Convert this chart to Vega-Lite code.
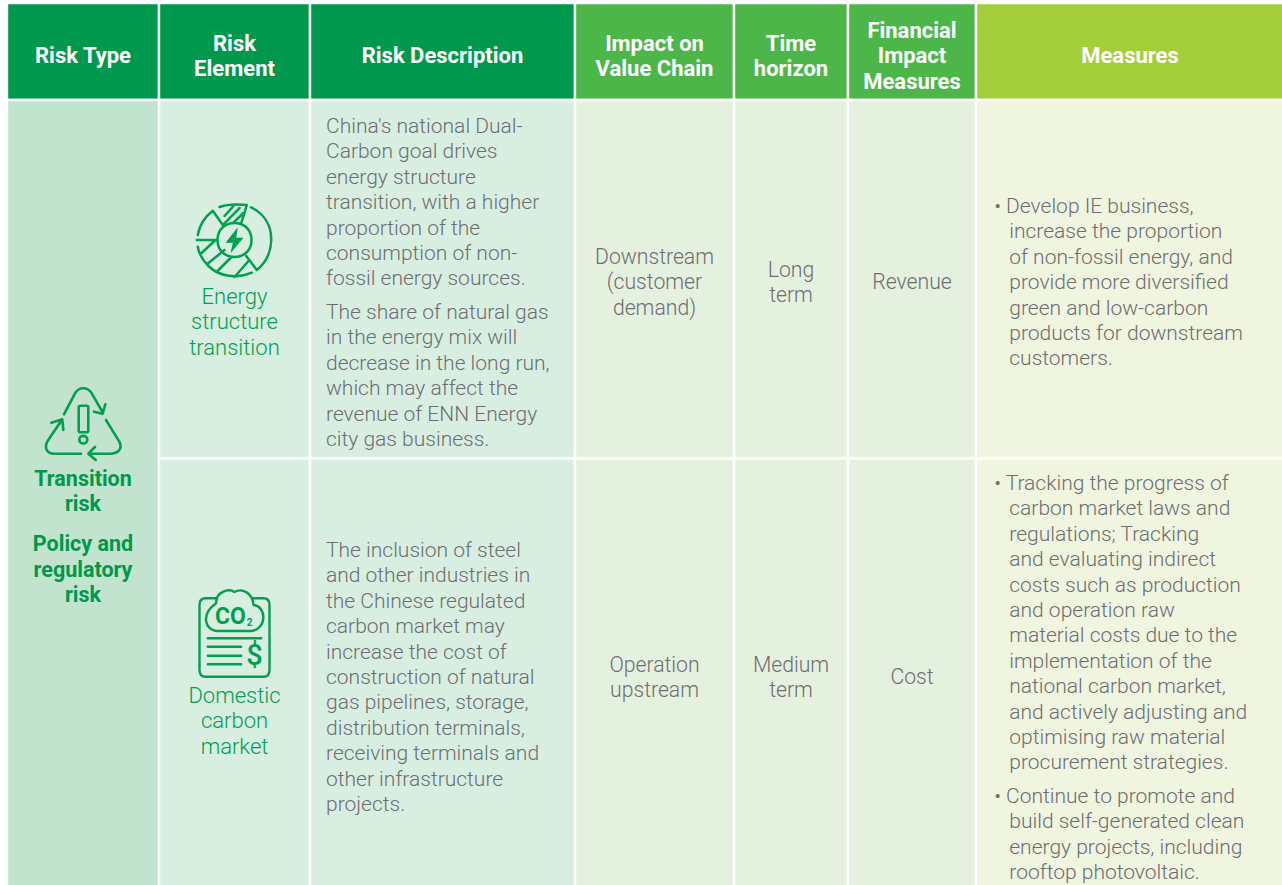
{
"$schema":"https://vega.github.io/schema/vega-lite/v6.json",
"width":1282,"height":885,"padding":0,"autosize":{"type":"none"},
"background":"white",
"config":{"view":{"stroke":null}},
"datasets":{
"cells":[
{"col":0,"col_end":1,"line":0.118,"line_end":3.937,"band":"core header"},
{"col":1,"col_end":2,"line":0.118,"line_end":3.937,"band":"core header"},
{"col":2,"col_end":3,"line":0.118,"line_end":3.937,"band":"core header"},
{"col":3,"col_end":4,"line":0.118,"line_end":3.937,"band":"impact header"},
{"col":4,"col_end":5,"line":0.118,"line_end":3.937,"band":"impact header"},
{"col":5,"col_end":6,"line":0.118,"line_end":3.937,"band":"impact header"},
{"col":6,"col_end":7,"line":0.118,"line_end":3.937,"band":"measures header"},
{"col":0,"col_end":1,"line":3.937,"line_end":34.921,"band":"type"},
{"col":1,"col_end":2,"line":3.937,"line_end":18.051,"band":"element"},
{"col":2,"col_end":3,"line":3.937,"line_end":18.051,"band":"element"},
{"col":3,"col_end":4,"line":3.937,"line_end":18.051,"band":"impact"},
{"col":4,"col_end":5,"line":3.937,"line_end":18.051,"band":"impact"},
{"col":5,"col_end":6,"line":3.937,"line_end":18.051,"band":"impact"},
{"col":6,"col_end":7,"line":3.937,"line_end":18.051,"band":"measures"},
{"col":1,"col_end":2,"line":18.051,"line_end":34.921,"band":"element"},
{"col":2,"col_end":3,"line":18.051,"line_end":34.921,"band":"element"},
{"col":3,"col_end":4,"line":18.051,"line_end":34.921,"band":"impact"},
{"col":4,"col_end":5,"line":18.051,"line_end":34.921,"band":"impact"},
{"col":5,"col_end":6,"line":18.051,"line_end":34.921,"band":"impact"},
{"col":6,"col_end":7,"line":18.051,"line_end":34.921,"band":"measures"}
],
"headers":[
{"col":0.5,"line":2.165,"text":"Risk Type"},
{"col":1.5,"line":1.693,"text":"Risk"},
{"col":1.5,"line":2.677,"text":"Element"},
{"col":2.5,"line":2.165,"text":"Risk Description"},
{"col":3.5,"line":1.693,"text":"Impact on"},
{"col":3.5,"line":2.677,"text":"Value Chain"},
{"col":4.5,"line":1.693,"text":"Time"},
{"col":4.5,"line":2.677,"text":"horizon"},
{"col":5.5,"line":1.181,"text":"Financial"},
{"col":5.5,"line":2.165,"text":"Impact"},
{"col":5.5,"line":3.189,"text":"Measures"},
{"col":6.5,"line":2.165,"text":"Measures"}
],
"centered":[
{"col":3.5,"line":10.118,"text":"Downstream"},
{"col":3.5,"line":11.118,"text":"(customer"},
{"col":3.5,"line":12.118,"text":"demand)"},
{"col":4.5,"line":10.63,"text":"Long"},
{"col":4.5,"line":11.63,"text":"term"},
{"col":5.5,"line":11.102,"text":"Revenue"},
{"col":3.5,"line":26.181,"text":"Operation"},
{"col":3.5,"line":27.181,"text":"upstream"},
{"col":4.5,"line":26.181,"text":"Medium"},
{"col":4.5,"line":27.181,"text":"term"},
{"col":5.5,"line":26.654,"text":"Cost"}
],
"descriptions":[
{"col":2,"line":4.96,"text":"China's national Dual-"},
{"col":2,"line":5.96,"text":"Carbon goal drives"},
{"col":2,"line":6.96,"text":"energy structure"},
{"col":2,"line":7.96,"text":"transition, with a higher"},
{"col":2,"line":8.96,"text":"proportion of the"},
{"col":2,"line":9.96,"text":"consumption of non-"},
{"col":2,"line":10.96,"text":"fossil energy sources."},
{"col":2,"line":12.283,"text":"The share of natural gas"},
{"col":2,"line":13.283,"text":"in the energy mix will"},
{"col":2,"line":14.283,"text":"decrease in the long run,"},
{"col":2,"line":15.283,"text":"which may affect the"},
{"col":2,"line":16.283,"text":"revenue of ENN Energy"},
{"col":2,"line":17.283,"text":"city gas business."},
{"col":2,"line":21.654,"text":"The inclusion of steel"},
{"col":2,"line":22.654,"text":"and other industries in"},
{"col":2,"line":23.654,"text":"the Chinese regulated"},
{"col":2,"line":24.654,"text":"carbon market may"},
{"col":2,"line":25.654,"text":"increase the cost of"},
{"col":2,"line":26.654,"text":"construction of natural"},
{"col":2,"line":27.654,"text":"gas pipelines, storage,"},
{"col":2,"line":28.654,"text":"distribution terminals,"},
{"col":2,"line":29.654,"text":"receiving terminals and"},
{"col":2,"line":30.654,"text":"other infrastructure"},
{"col":2,"line":31.654,"text":"projects."}
],
"measures":[
{"col":6.059,"line":8.11,"text":"• Develop IE business,"},
{"col":6.108,"line":9.11,"text":"increase the proportion"},
{"col":6.108,"line":10.11,"text":"of non-fossil energy, and"},
{"col":6.108,"line":11.11,"text":"provide more diversified"},
{"col":6.108,"line":12.11,"text":"green and low-carbon"},
{"col":6.108,"line":13.11,"text":"products for downstream"},
{"col":6.108,"line":14.11,"text":"customers."},
{"col":6.059,"line":19.016,"text":"• Tracking the progress of"},
{"col":6.108,"line":20.016,"text":"carbon market laws and"},
{"col":6.108,"line":21.016,"text":"regulations; Tracking"},
{"col":6.108,"line":22.016,"text":"and evaluating indirect"},
{"col":6.108,"line":23.016,"text":"costs such as production"},
{"col":6.108,"line":24.016,"text":"and operation raw"},
{"col":6.108,"line":25.016,"text":"material costs due to the"},
{"col":6.108,"line":26.016,"text":"implementation of the"},
{"col":6.108,"line":27.016,"text":"national carbon market,"},
{"col":6.108,"line":28.016,"text":"and actively adjusting and"},
{"col":6.108,"line":29.016,"text":"optimising raw material"},
{"col":6.108,"line":30.016,"text":"procurement strategies."},
{"col":6.059,"line":31.339,"text":"• Continue to promote and"},
{"col":6.108,"line":32.339,"text":"build self-generated clean"},
{"col":6.108,"line":33.339,"text":"energy projects, including"},
{"col":6.108,"line":34.339,"text":"rooftop photovoltaic."}
],
"elements":[
{"col":1.5,"line":11.654,"text":"Energy"},
{"col":1.5,"line":12.654,"text":"structure"},
{"col":1.5,"line":13.654,"text":"transition"},
{"col":1.5,"line":27.362,"text":"Domestic"},
{"col":1.5,"line":28.362,"text":"carbon"},
{"col":1.5,"line":29.362,"text":"market"}
],
"types":[
{"col":0.5,"line":18.858,"text":"Transition"},
{"col":0.5,"line":19.843,"text":"risk"},
{"col":0.5,"line":21.417,"text":"Policy and"},
{"col":0.5,"line":22.441,"text":"regulatory"},
{"col":0.5,"line":23.425,"text":"risk"}
]
},
"encoding":{
"x":{"field":"col","type":"quantitative","axis":null,"scale":{"domain":[0,1,2,3,4,5,6,7],"range":[7,159,310,575,734,848,976,1284]}},
"y":{"field":"line","type":"quantitative","axis":null,"scale":{"domain":[0,34.843],"range":[0,885]}}
},
"layer":[
{"data":{"name":"cells"},"mark":{"type":"rect","stroke":"white","strokeWidth":2.4},
 "encoding":{"x2":{"field":"col_end"},"y2":{"field":"line_end"},
 "color":{"field":"band","type":"nominal","legend":null,"scale":{"domain":["core header","impact header","measures header","type","element","impact","measures"],"range":["#00984C","#4CB748","#A4CE39","#C2E3CD","#D8EEE1","#E5F1DF","#EFF5DF"]}}}},
{"data":{"name":"headers"},"mark":{"type":"text","font":"Roboto","fontWeight":700,"fontSize":22,"fill":"white","align":"center","baseline":"middle","dy":1},
 "encoding":{"text":{"field":"text"}}},
{"data":{"name":"centered"},"mark":{"type":"text","font":"Roboto","fontWeight":300,"fontSize":21.2,"fill":"#6D6E71","align":"center","baseline":"middle","dy":1},
 "encoding":{"text":{"field":"text"}}},
{"data":{"name":"descriptions"},"mark":{"type":"text","font":"Roboto","fontWeight":300,"fontSize":21,"fill":"#6D6E71","align":"left","baseline":"middle","dx":16,"dy":1},
 "encoding":{"text":{"field":"text"}}},
{"data":{"name":"measures"},"mark":{"type":"text","font":"Roboto","fontWeight":300,"fontSize":21,"fill":"#6D6E71","align":"left","baseline":"middle","dy":1},
 "encoding":{"text":{"field":"text"}}},
{"data":{"name":"elements"},"mark":{"type":"text","font":"Roboto","fontWeight":300,"fontSize":22,"fill":"#00A04F","align":"center","baseline":"middle","dy":1},
 "encoding":{"text":{"field":"text"}}},
{"data":{"name":"types"},"mark":{"type":"text","font":"Roboto","fontWeight":700,"fontSize":21.5,"fill":"#00984C","align":"center","baseline":"middle","dy":1},
 "encoding":{"text":{"field":"text"}}},
{"data":{"values":[{"col":0.5,"line":16.732}]},
 "mark":{"type":"point","filled":false,"size":4,"stroke":"#00A04F","strokeWidth":2.6,"opacity":1,"strokeCap":"round","strokeJoin":"round","shape":"M-19,-10.7 L-8,-31.7 C-4,-38.5 4.5,-38.5 8.7,-31.7 L19.7,-12.7 M11,-13.3 L19.7,-11.3 L22.3,-20.7 M23,-5 L36.3,16.7 C40,24 35,28.7 27,28.7 L5.3,28.7 M12,22 L5.3,28.7 L12.7,35 M-2,28.7 L-28,28.7 C-36,28.7 -40,23 -34.7,15 L-20.7,-5.7 M-31.7,-2.3 L-20.7,-5.7 L-19.7,5 M-2.5,-19.3 L3.5,-19.3 Q5.3,-19.3 5.3,-17.5 L5.3,5.5 Q5.3,7.3 3.5,7.3 L-2.5,7.3 Q-4.3,7.3 -4.3,5.5 L-4.3,-17.5 Q-4.3,-19.3 -2.5,-19.3 Z M4.3,14.7 C4.3,19.8 -3.7,19.8 -3.7,14.7 C-3.7,9.6 4.3,9.6 4.3,14.7 Z"}},
{"data":{"values":[{"col":1.5,"line":9.449}]},
 "mark":{"type":"point","filled":false,"size":4,"stroke":"#00A04F","strokeWidth":2.5,"opacity":1,"strokeCap":"round","strokeJoin":"round","shape":"M16.7,-32.7 C30,-26 37,-14 36.7,0 C36.5,12 31,23 22.3,30 L11.7,16 M17.3,32.7 C3,39 -15,37 -26,26 C-32,20 -36,13 -36.7,6.7 M-36.7,-5 C-35,-15 -30,-23 -21.7,-29.3 L-11.7,-15 M6.7,-16.7 L12.3,-35 C2,-36 -7,-36 -15,-33 M-11.7,-15 L5,-32 M-1,-17.5 L9,-27 M-37.7,0 L-18,0 M17,0 C17,22.7 -17,22.7 -17,0 C-17,-22.7 17,-22.7 17,0 Z M-33,13 L-20,1 M-26,23 L-10,10 M-18,32 L-3,17 M0,37 L14,21 M-10,-24 L-1,-34"}},
{"data":{"values":[{"col":1.5,"line":9.449}]},
 "mark":{"type":"point","filled":true,"size":4,"fill":"#00A04F","opacity":1,"shape":"M3.3,-12.7 L-9,2.7 L-1.7,2.7 L-4,13.3 L9,-2.3 L1.7,-2.3 Z"}},
{"data":{"values":[{"col":1.5,"line":25.118}]},
 "mark":{"type":"point","filled":false,"size":4,"stroke":"#00A04F","strokeWidth":2.4,"opacity":1,"strokeCap":"round","strokeJoin":"round","shape":"M-19,-39.7 L-29,-39.7 Q-35,-39.7 -35,-33 L-35,32 Q-35,38.7 -29,38.7 L29,38.7 Q35,38.7 35,32 L35,-33 Q35,-39.7 29,-39.7 L19,-39.7 M-16.7,-7 C-30,-7 -34,-24 -18.3,-34.7 C-19,-46 -6,-50 0,-46 C7,-50 18,-46 19,-33 C32,-32 33,-9 16.7,-7 Z M-26.7,0.3 L26.7,0.3 M-26.7,8.7 L6.7,8.7 M-26.7,17.7 L6.7,17.7 M-26.7,26.3 L6.7,26.3"}},
{"data":{"values":[{"col":1.5,"line":25.118,"text":"CO"}]},
 "mark":{"type":"text","font":"Roboto","fontWeight":700,"fontSize":23,"fill":"#00A04F","align":"center","baseline":"middle","dx":-4,"dy":-21},
 "encoding":{"text":{"field":"text"}}},
{"data":{"values":[{"col":1.5,"line":25.118,"text":"2"}]},
 "mark":{"type":"text","font":"Roboto","fontWeight":700,"fontSize":10,"fill":"#00A04F","align":"center","baseline":"middle","dx":15,"dy":-15},
 "encoding":{"text":{"field":"text"}}},
{"data":{"values":[{"col":1.5,"line":25.118,"text":"$"}]},
 "mark":{"type":"text","font":"Roboto","fontWeight":500,"fontSize":29,"fill":"#00A04F","align":"center","baseline":"middle","dx":20,"dy":18},
 "encoding":{"text":{"field":"text"}}}
]
}
